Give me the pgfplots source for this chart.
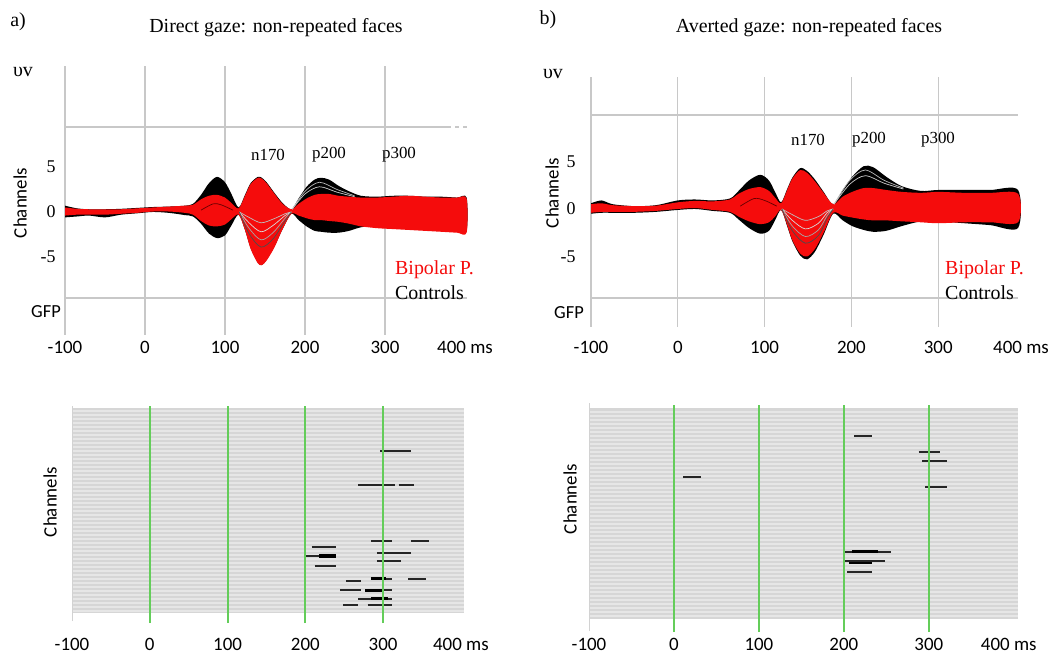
\documentclass[border=0pt]{standalone}
\usepackage{fontspec}
\setmainfont{Liberation Serif}
\newfontfamily\calib{Carlito}
\usepackage{pgfplots}
\pgfplotsset{compat=1.18}
\definecolor{ered}{RGB}{245,12,12}
\definecolor{egrid}{RGB}{200,200,200}
\definecolor{bgray}{RGB}{214,214,214}
\definecolor{stripe}{RGB}{230,230,230}
\definecolor{egreen}{RGB}{100,205,90}
\newcommand\fs[1]{\fontsize{#1}{#1}\selectfont}

\pgfplotsset{
  toppanel/.style={scale only axis, anchor=south west,
    axis line style={draw=none}, tick style={draw=none},
    xmin=-100, xmax=400,
    xtick={-100,0,100,200,300}, xticklabels={-100,0,100,200,300},
    extra x ticks={400}, extra x tick labels={400 ms},
    extra x tick style={grid=none},
    xmajorgrids, x grid style={egrid, line width=1.3bp},
    ytick={-5,0,5}, yticklabels={-5,0,5},
    xticklabel style={font=\calib\fs{19}},
    yticklabel style={font=\fs{18}},
    clip=false},
  botpanel/.style={scale only axis, anchor=south west,
    axis line style={draw=none}, tick style={draw=none},
    xmin=-100, ymin=0,
    xtick={-100,0,100,200,300,400}, xticklabels={-100,0,100,200,300,400 ms},
    xticklabel style={font=\calib\fs{19}},
    yticklabels={}, ymajorgrids, y grid style={stripe, line width=1.1bp},
    axis background/.style={fill=bgray},
    clip=false},
  env/.style={draw=none, smooth, tension=0.5, forget plot},
  sig/.style={black!85, line width=1.6bp, forget plot},
  sigb/.style={black, line width=3.5bp, forget plot},
  chan/.style={line width=0.7bp, smooth, forget plot},
}

\begin{document}
\begin{tikzpicture}
\path[use as bounding box] (0,0) rectangle (1051bp,656bp);

% ---------------- top left ----------------
\begin{axis}[toppanel, at={(65bp,321bp)}, width=400bp, height=269bp,
  ymin=-13.67, ymax=16.22,
  xticklabel style={yshift=-3bp}, yticklabel style={xshift=-6bp}]
\draw[egrid, line width=1.3bp] (axis cs:-100,9.44) -- (axis cs:378,9.44);
\draw[egrid, line width=1.3bp, dash pattern=on 4bp off 4bp] (axis cs:378,9.44) -- (axis cs:402,9.44);
\draw[egrid, line width=1.3bp] (axis cs:-100,-9.56) -- (axis cs:402,-9.56);
% controls: envelope of channel traces (upper, then lower backwards)
\addplot[env, fill=black] coordinates {
(-100,0.7)(-85,0.4)(-70,0.3)(-50,0.3)(-30,0.35)(-10,0.45)(10,0.55)(30,0.6)(50,0.7)(60,0.9)(70,1.9)(80,3.2)(90,3.9)(100,3.3)(108,2.0)(117,0.5)(125,1.9)(132,3.2)(141,3.9)(146,3.8)(152,3.3)(162,2.1)(172,1.0)(183,0.3)(192,1.5)(202,2.8)(212,3.6)(220,3.8)(230,3.6)(242,2.9)(255,2.3)(270,1.8)(290,1.7)(310,1.8)(330,1.8)(350,1.7)(370,1.7)(390,1.6)(402,1.6)
(402,-2.1)(390,-2.0)(370,-1.9)(350,-1.7)(330,-1.6)(310,-1.5)(290,-1.5)(270,-1.7)(255,-2.1)(242,-2.3)(230,-2.3)(220,-2.2)(212,-2.1)(202,-1.6)(192,-0.9)(183,-0.2)(172,-1.9)(162,-3.8)(152,-5.3)(146,-5.9)(141,-5.6)(132,-4.0)(125,-2.0)(117,-0.3)(108,-1.5)(100,-2.6)(90,-2.9)(80,-2.4)(70,-1.3)(60,-0.5)(50,-0.35)(30,-0.1)(10,0.0)(-10,-0.15)(-30,-0.3)(-50,-0.6)(-70,-0.4)(-85,-0.5)(-100,-0.6)
} -- cycle;
% bipolar patients
\addplot[env, fill=ered] coordinates {
(-100,0.5)(-85,0.35)(-70,0.3)(-50,0.3)(-30,0.3)(-10,0.4)(10,0.5)(30,0.6)(50,0.7)(60,0.8)(70,1.4)(80,1.8)(90,1.9)(100,1.6)(108,1.0)(117,0.4)(125,1.8)(132,3.1)(141,3.8)(146,3.7)(152,3.2)(162,2.0)(172,0.9)(183,0.3)(192,0.9)(202,1.5)(212,1.9)(220,2.0)(230,2.0)(242,1.8)(255,1.7)(270,1.6)(290,1.6)(310,1.7)(330,1.8)(350,1.7)(370,1.6)(390,1.6)(402,1.5)
(402,-2.3)(390,-2.3)(370,-2.2)(350,-2.1)(330,-2.0)(310,-1.9)(290,-1.8)(270,-1.6)(255,-1.3)(242,-1.1)(230,-1.0)(220,-0.9)(212,-0.9)(202,-0.7)(192,-0.4)(183,-0.2)(172,-1.9)(162,-3.9)(152,-5.4)(146,-5.9)(141,-5.7)(132,-4.1)(125,-2.0)(117,-0.3)(108,-0.8)(100,-1.4)(90,-1.6)(80,-1.5)(70,-1.0)(60,-0.3)(50,-0.1)(30,0.05)(10,0.05)(-10,-0.1)(-30,-0.2)(-50,-0.3)(-70,-0.3)(-85,-0.3)(-100,-0.4)
} -- cycle;
\addplot[chan, gray!55] coordinates {(184,0.3) (200,2.3) (218,3.3) (240,2.5) (262,1.8)};
\addplot[chan, gray!40] coordinates {(184,0.3) (200,2.0) (218,2.8) (240,2.2) (262,1.7)};
\addplot[chan, gray!50] coordinates {(118,0) (130,-0.6) (145,-1.2) (160,-0.8) (175,-0.2) (183,0)};
\addplot[chan, white!70!gray] coordinates {(118,0) (130,-1.2) (145,-2.2) (160,-1.5) (175,-0.4) (183,0)};
\addplot[chan, gray!70] coordinates {(118,0) (130,-1.8) (145,-3.1) (160,-2.3) (175,-0.7) (183,0)};
\addplot[chan, black!70] coordinates {(118,0) (130,-2.4) (145,-3.9) (160,-3.0) (175,-1.0) (183,0)};
\addplot[chan, black!60!red] coordinates {(70,0.2) (85,0.9) (95,0.8) (110,0.2)};
\end{axis}

% ---------------- top right ----------------
\begin{axis}[toppanel, at={(591bp,329bp)}, width=434bp, height=250bp,
  ymin=-12.42, ymax=13.89,
  xticklabel style={yshift=-11bp}, yticklabel style={xshift=-12bp},
  extra x tick style={grid=none, xticklabel style={xshift=-4bp}}]
\draw[egrid, line width=1.3bp] (axis cs:-100,9.89) -- (axis cs:392,9.89);
\draw[egrid, line width=1.3bp] (axis cs:-100,-9.37) -- (axis cs:392,-9.37);
\addplot[env, fill=black] coordinates {
(-100,0.6)(-88,0.9)(-75,0.5)(-50,0.3)(-25,0.4)(0,0.9)(20,1.0)(40,0.9)(60,1.1)(70,1.9)(82,3.0)(95,3.6)(105,3.0)(112,1.8)(119,0.7)(126,2.1)(132,3.3)(141,4.3)(149,4.0)(158,3.1)(168,1.8)(179,0.5)(190,2.0)(201,3.4)(214,4.5)(225,4.4)(240,3.4)(258,2.4)(280,1.9)(300,2.0)(330,2.0)(360,2.0)(392,2.0)
(392,-2.0)(360,-1.7)(330,-1.5)(300,-1.3)(280,-1.3)(258,-1.8)(240,-2.3)(225,-2.4)(214,-2.2)(201,-1.8)(190,-1.2)(179,-0.5)(168,-2.7)(158,-4.5)(149,-5.3)(141,-4.9)(132,-3.4)(126,-1.8)(119,-0.1)(112,-1.2)(105,-2.3)(95,-2.6)(82,-2.0)(70,-1.1)(60,-0.4)(40,-0.2)(20,0.0)(0,-0.1)(-25,-0.3)(-50,-0.4)(-75,-0.4)(-88,-0.4)(-100,-0.5)
} -- cycle;
\addplot[env, fill=ered] coordinates {
(-100,0.5)(-88,0.6)(-75,0.4)(-50,0.3)(-25,0.35)(0,0.7)(20,0.85)(40,0.8)(60,1.0)(70,1.6)(82,2.1)(95,2.3)(105,1.9)(112,1.2)(119,0.6)(126,2.0)(132,3.2)(141,4.1)(149,3.8)(158,2.9)(168,1.7)(179,0.5)(190,1.3)(201,1.8)(214,2.2)(225,2.2)(240,2.0)(258,1.8)(280,1.7)(300,1.8)(330,1.7)(360,1.7)(392,1.6)
(392,-1.4)(360,-1.4)(330,-1.4)(300,-1.5)(280,-1.4)(258,-1.3)(240,-1.2)(225,-1.2)(214,-1.1)(201,-0.9)(190,-0.7)(179,-0.4)(168,-2.5)(158,-4.2)(149,-5.0)(141,-4.7)(132,-3.3)(126,-1.7)(119,-0.1)(112,-0.8)(105,-1.4)(95,-1.6)(82,-1.3)(70,-0.8)(60,-0.3)(40,-0.1)(20,0.1)(0,0.0)(-25,-0.2)(-50,-0.3)(-75,-0.3)(-88,-0.3)(-100,-0.4)
} -- cycle;
\addplot[chan, gray!55] coordinates {(180,0.5) (198,3.0) (216,4.1) (238,3.0) (260,2.2)};
\addplot[chan, gray!40] coordinates {(180,0.5) (198,2.6) (216,3.5) (238,2.7) (260,2.1)};
\addplot[chan, gray!50] coordinates {(120,0) (132,-0.6) (147,-1.2) (162,-0.8) (172,-0.2) (179,0)};
\addplot[chan, white!70!gray] coordinates {(120,0) (132,-1.2) (147,-2.1) (162,-1.5) (172,-0.4) (179,0)};
\addplot[chan, gray!70] coordinates {(120,0) (132,-1.8) (147,-2.9) (162,-2.2) (172,-0.7) (179,0)};
\addplot[chan, black!70] coordinates {(120,0) (132,-2.3) (147,-3.6) (162,-2.8) (172,-1.0) (179,0)};
\addplot[chan, black!60!red] coordinates {(72,0.3) (88,1.1) (100,0.9) (114,0.3)};
\end{axis}

% ---------------- bottom left ----------------
\begin{axis}[botpanel, at={(72bp,43bp)}, width=392bp, height=205bp,
  xmax=404, ymax=205, ytick={2,6,...,202},
  xticklabel style={yshift=-22bp}]
\draw[gray!35, line width=1bp] (axis cs:-100,-8) -- (axis cs:-100,207);
\addplot[sig] coordinates {(296,162) (336,162)};
\addplot[sig] coordinates {(268,128) (315,128)};
\addplot[sig] coordinates {(320,128) (340,128)};
\addplot[sig] coordinates {(285,72) (312,72)};
\addplot[sig] coordinates {(336,72) (359,72)};
\addplot[sig] coordinates {(208,66) (240,66)};
\addplot[sig] coordinates {(292,60) (336,60)};
\addplot[sig] coordinates {(200,57) (240,57)};
\addplot[sigb] coordinates {(218,57) (240,57)};
\addplot[sig] coordinates {(292,52) (323,52)};
\addplot[sig] coordinates {(212,47) (240,47)};
\addplot[sig] coordinates {(285,34) (312,34)};
\addplot[sigb, line width=2.5bp] coordinates {(285,34.5) (304,34.5)};
\addplot[sig] coordinates {(332,34) (355,34)};
\addplot[sig] coordinates {(252,32) (271,32)};
\addplot[sig] coordinates {(245,23) (271,23)};
\addplot[sig] coordinates {(277,23) (312,23)};
\addplot[sigb, line width=2.5bp] coordinates {(277,22.5) (299,22.5)};
\addplot[sig] coordinates {(268,14) (312,14)};
\addplot[sigb, line width=2.5bp] coordinates {(285,14.5) (306,14.5)};
\addplot[sig] coordinates {(249,8) (268,8)};
\addplot[sig] coordinates {(280,8) (312,8)};
\draw[egreen, line width=2bp] (axis cs:0,-10) -- (axis cs:0,207);
\draw[egreen, line width=2bp] (axis cs:100,-10) -- (axis cs:100,207);
\draw[egreen, line width=2bp] (axis cs:200,-10) -- (axis cs:200,207);
\draw[egreen, line width=2bp] (axis cs:300,-10) -- (axis cs:300,207);
\end{axis}

% ---------------- bottom right ----------------
\begin{axis}[botpanel, at={(589bp,37bp)}, width=429bp, height=211bp,
  xmax=405, ymax=211, ytick={3,7,...,207},
  xtick={-100,0,100,200,300}, xticklabels={-100,0,100,200,300},
  extra x ticks={400}, extra x tick labels={400 ms},
  extra x tick style={xticklabel style={xshift=-5bp}},
  xticklabel style={yshift=-16bp}]
\draw[gray!35, line width=1bp] (axis cs:-100,-12) -- (axis cs:-100,216);
\addplot[sig] coordinates {(212,183) (233,183)};
\addplot[sig] coordinates {(288,167) (313,167)};
\addplot[sig] coordinates {(292,158) (321,158)};
\addplot[sig] coordinates {(11,142) (32,142)};
\addplot[sig] coordinates {(296,132) (321,132)};
\addplot[sig] coordinates {(200,67) (256,67)};
\addplot[sigb, line width=2.8bp] coordinates {(210,67.5) (240,67.5)};
\addplot[sig] coordinates {(200,58) (248,58)};
\addplot[sigb, line width=2.8bp] coordinates {(206,56) (233,56)};
\addplot[sig] coordinates {(204,47) (233,47)};
\draw[egreen, line width=2bp] (axis cs:0,-13) -- (axis cs:0,214);
\draw[egreen, line width=2bp] (axis cs:100,-13) -- (axis cs:100,214);
\draw[egreen, line width=2bp] (axis cs:200,-13) -- (axis cs:200,214);
\draw[egreen, line width=2bp] (axis cs:300,-13) -- (axis cs:300,214);
\end{axis}

% ---------------- texts ----------------
\node[font=\fs{20}] at (18bp,634bp) {a)};
\node[font=\fs{20}] at (276bp,628bp) {Direct gaze: non-repeated faces};
\node[font=\fs{20}] at (548bp,636bp) {b)};
\node[font=\fs{20}] at (809bp,628bp) {Averted gaze: non-repeated faces};
\node[font=\fs{20}] at (23bp,584bp) {υv};
\node[font=\fs{20}] at (553bp,582bp) {υv};
\node[font=\calib\fs{19}, rotate=90] at (20bp,453bp) {Channels};
\node[font=\calib\fs{19}, rotate=90] at (552bp,463bp) {Channels};
\node[font=\calib\fs{18.5}] at (46bp,344bp) {GFP};
\node[font=\calib\fs{18.5}] at (569bp,343bp) {GFP};
\node[font=\fs{17}] at (268bp,501bp) {n170};
\node[font=\fs{17}] at (329bp,501bp) {p200};
\node[font=\fs{17}] at (399bp,501bp) {p300};
\node[font=\fs{17}] at (808bp,516bp) {n170};
\node[font=\fs{17}] at (869bp,516bp) {p200};
\node[font=\fs{17}] at (938bp,516bp) {p300};
\node[font=\fs{20}, text=ered, anchor=west, inner sep=0pt] at (395bp,386bp) {Bipolar P.};
\node[font=\fs{20}, anchor=west, inner sep=0pt] at (395bp,363bp) {Controls};
\node[font=\fs{20}, text=ered, anchor=west, inner sep=0pt] at (945bp,386bp) {Bipolar P.};
\node[font=\fs{20}, anchor=west, inner sep=0pt] at (945bp,363bp) {Controls};
\node[font=\calib\fs{19}, rotate=90] at (50bp,154bp) {Channels};
\node[font=\calib\fs{19}, rotate=90] at (570bp,157bp) {Channels};
\end{tikzpicture}
\end{document}
